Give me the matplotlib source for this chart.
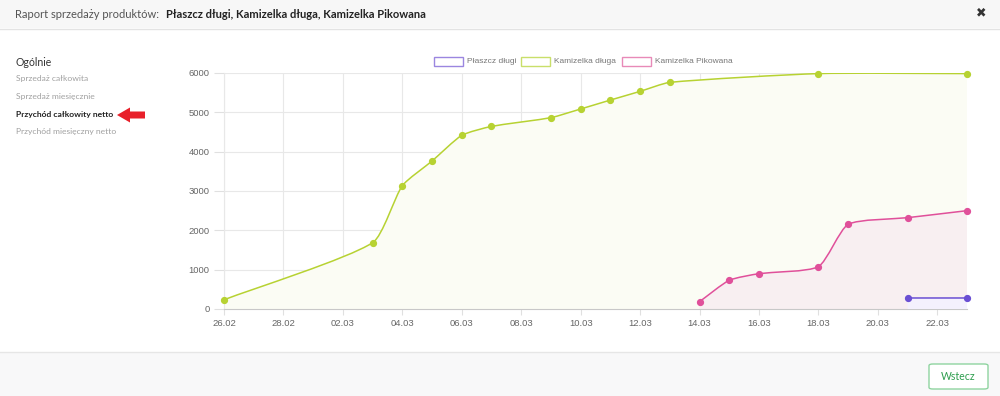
import numpy as np
import pandas as pd
import matplotlib
matplotlib.use('Agg')
import matplotlib.pyplot as plt
import matplotlib.dates as mdates
from matplotlib.path import Path
from matplotlib.patches import PathPatch, Rectangle, Polygon, FancyBboxPatch

# data
plaszcz_dates = ['2019-03-21', '2019-03-23']
plaszcz_vals = [280, 280]

kam_dluga_dates = ['2019-02-26', '2019-03-03', '2019-03-04', '2019-03-05',
                   '2019-03-06', '2019-03-07', '2019-03-09', '2019-03-10',
                   '2019-03-11', '2019-03-12', '2019-03-13', '2019-03-18',
                   '2019-03-23']
kam_dluga_vals = [235, 1685, 3135, 3762, 4415, 4642, 4865, 5085,
                  5312, 5533, 5762, 5985, 5985]

kam_pik_dates = ['2019-03-14', '2019-03-15', '2019-03-16', '2019-03-18',
                 '2019-03-19', '2019-03-21', '2019-03-23']
kam_pik_vals = [186, 730, 898, 1076, 2153, 2322, 2500]

series_names = ['Płaszcz długi', 'Kamizelka długa', 'Kamizelka Pikowana']
line_colors = ['#6a4fd3', '#b7d232', '#e0509a']
fill_colors = ['#f4f1fd', '#fbfcf4', '#f8eff1']
legend_edges = ['#9b86e0', '#c9df6a', '#e88ab8']

W, H = 1000, 396
fig = plt.figure(figsize=(W / 100, H / 100), dpi=100)
fig.patch.set_facecolor('white')


def fx(x):
    return x / W


def fy(y):
    return 1 - y / H


# header band
fig.patches.append(Rectangle((0, fy(28)), 1, 28 / H, transform=fig.transFigure,
                             facecolor='#f7f7f7', edgecolor='none', zorder=0))
fig.lines.append(plt.Line2D([0, 1], [fy(28.5), fy(28.5)], transform=fig.transFigure,
                            color='#e3e3e3', lw=1))
fig.text(fx(15), fy(14), 'Raport sprzedaży produktów:', family='Lato',
         fontsize=8.0, color='#555555', va='center')
fig.text(fx(166), fy(14), 'Płaszcz długi, Kamizelka długa, Kamizelka Pikowana',
         family='Lato', fontweight='bold', fontsize=8.05, color='#222222', va='center')
fig.text(fx(981), fy(13), '✖', family='DejaVu Sans', fontsize=9,
         color='#333333', ha='center', va='center')

# footer
fig.patches.append(Rectangle((0, 0), 1, fy(352), transform=fig.transFigure,
                             facecolor='#f8f8f9', edgecolor='none', zorder=0))
fig.lines.append(plt.Line2D([0, 1], [fy(352), fy(352)], transform=fig.transFigure,
                            color='#e6e6e6', lw=1))
fig.patches.append(FancyBboxPatch((fx(929), fy(389)), 59 / W, 25 / H,
                                  boxstyle='round,pad=0,rounding_size=0.004',
                                  transform=fig.transFigure, facecolor='white',
                                  edgecolor='#8fd4a0', lw=1))
fig.text(fx(958.5), fy(377), 'Wstecz', family='Lato', fontsize=7.6,
         color='#2f9e4f', ha='center', va='center')

# sidebar
fig.text(fx(15), fy(62), 'Ogólnie', family='Lato', fontsize=7.6,
         color='#333333', va='center')
side_items = ['Sprzedaż całkowita', 'Sprzedaż miesięcznie',
              'Przychód całkowity netto', 'Przychód miesięczny netto']
side_y = [79, 97, 115, 131]
for item, yy in zip(side_items, side_y):
    bold = item == 'Przychód całkowity netto'
    fig.text(fx(16), fy(yy), item, family='Lato', fontsize=6.1,
             fontweight='bold' if bold else 'normal',
             color='#222222' if bold else '#a0a0a0', va='center')
arrow = [(117, 115), (130, 107.5), (130, 111.5), (145, 111.5), (145, 118.5),
         (130, 118.5), (130, 122.5)]
fig.patches.append(Polygon([(fx(a), fy(b)) for a, b in arrow], closed=True,
                           transform=fig.transFigure, facecolor='#e8202a',
                           edgecolor='none'))

# chart area
ax = fig.add_axes([fx(224), fy(309), (967 - 224) / W, (309 - 73) / H])
x0 = mdates.date2num(pd.Timestamp('2019-02-26'))
x1 = mdates.date2num(pd.Timestamp('2019-03-23'))
ax.set_xlim(x0, x1)
ax.set_ylim(0, 6000)
ax.set_yticks(np.arange(0, 6001, 1000))
xt = pd.date_range('2019-02-26', '2019-03-22', freq='2D')
ax.set_xticks(mdates.date2num(xt))
ax.set_xticklabels([d.strftime('%d.%m') for d in xt])
ax.grid(True, color='#e8e8e8', lw=0.8)
ax.set_axisbelow(True)
for s in ['top', 'right']:
    ax.spines[s].set_visible(False)
ax.spines['left'].set_color('#e8e8e8')
ax.spines['bottom'].set_color('#c8c8c8')
ax.tick_params(axis='both', colors='#e0e0e0', length=7, width=0.8,
               labelcolor='#666666', labelsize=6.8)
ax.tick_params(axis='x', length=4, pad=3)
for lbl in ax.get_xticklabels() + ax.get_yticklabels():
    lbl.set_family('Liberation Sans')


def spline_path(xs, ys, t=0.2):
    pts = ax.transData.transform(np.column_stack([xs, ys]))
    n = len(pts)
    cps_prev, cps_next = [], []
    for i in range(n):
        cur = pts[i]
        prv = pts[i - 1] if i > 0 else cur
        nxt = pts[i + 1] if i < n - 1 else cur
        d01 = np.hypot(*(cur - prv))
        d12 = np.hypot(*(nxt - cur))
        tot = d01 + d12
        s01 = d01 / tot if tot else 0
        s12 = d12 / tot if tot else 0
        cps_prev.append(cur - t * s01 * (nxt - prv))
        cps_next.append(cur + t * s12 * (nxt - prv))
    verts = [pts[0]]
    codes = [Path.MOVETO]
    for i in range(1, n):
        verts += [cps_next[i - 1], cps_prev[i], pts[i]]
        codes += [Path.CURVE4] * 3
    inv = ax.transData.inverted()
    return inv.transform(np.array(verts)), codes


all_dates = [plaszcz_dates, kam_dluga_dates, kam_pik_dates]
all_vals = [plaszcz_vals, kam_dluga_vals, kam_pik_vals]
draw_order = [1, 2, 0]
for z, k in enumerate(draw_order):
    xs = mdates.date2num(pd.to_datetime(all_dates[k]))
    ys = np.array(all_vals[k], dtype=float)
    verts, codes = spline_path(xs, ys)
    fverts = np.vstack([verts, [[xs[-1], 0], [xs[0], 0], [xs[0], ys[0]]]])
    fcodes = codes + [Path.LINETO, Path.LINETO, Path.CLOSEPOLY]
    ax.add_patch(PathPatch(Path(fverts, fcodes), facecolor=fill_colors[k],
                           edgecolor='none', zorder=1 + z))
    ax.add_patch(PathPatch(Path(verts, codes), facecolor='none',
                           edgecolor=line_colors[k], lw=1.1, zorder=5 + z))
    ax.plot(xs, ys, 'o', color=line_colors[k], ms=4.2, zorder=8 + z,
            clip_on=False)

# legend
leg_box_x = [434, 521, 622]
for k in range(3):
    bx = leg_box_x[k]
    fig.patches.append(Rectangle((fx(bx), fy(66)), 29 / W, 9 / H,
                                 transform=fig.transFigure, facecolor='white',
                                 edgecolor=legend_edges[k], lw=1))
    fig.text(fx(bx + 33), fy(61.5), series_names[k], family='Liberation Sans',
             fontsize=6.0, color='#777777', va='center')

fig.savefig('out.png', dpi=100)
